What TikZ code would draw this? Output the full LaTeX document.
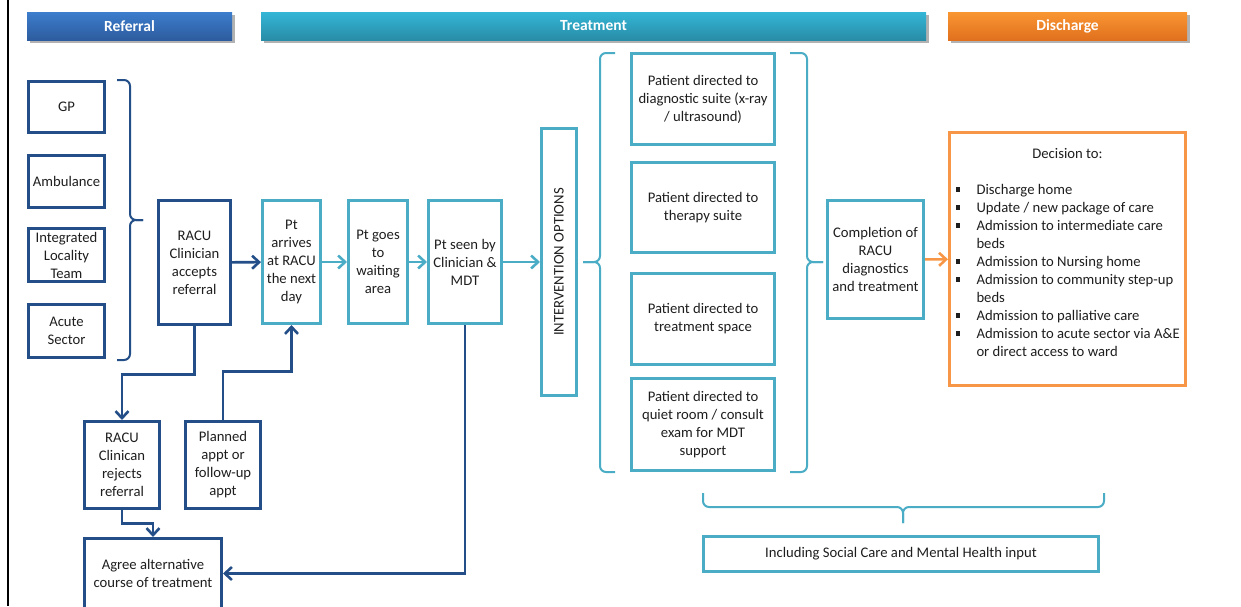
\documentclass[tikz,border=0pt]{standalone}
\usepackage{fontspec}
\usepackage{graphicx}
\setmainfont{Carlito}
\usetikzlibrary{arrows.meta, positioning, calc, shadows}
\definecolor{RefBlue}{RGB}{35, 78, 135}
\definecolor{TreatTeal}{RGB}{75, 172, 198}
\definecolor{DischOrange}{RGB}{247, 150, 70}
\definecolor{InkGrey}{RGB}{30, 30, 30}
\newcommand{\boxfont}{\fontsize{14.67pt}{18pt}\selectfont}
\newcommand{\phasefont}{\fontsize{15.5pt}{18pt}\selectfont\bfseries}
\newcommand{\decitem}[1]{\par\hangindent=21pt\hangafter=1\noindent\makebox[21pt][l]{\rule[2.5pt]{4.5pt}{4.5pt}}#1}

\begin{document}
\begin{tikzpicture}[x=1pt, y=-1pt,
    every node/.style={font=\boxfont, text=InkGrey, align=center, inner sep=0pt},
    refbox/.style={draw=RefBlue, line width=3pt},
    treatbox/.style={draw=TreatTeal, line width=3pt},
    dischbox/.style={draw=DischOrange, line width=3pt},
    phase/.style={minimum height=28pt, text=white, font=\phasefont,
        drop shadow={shadow xshift=3pt, shadow yshift=-3pt, opacity=0.3, fill=black}},
    refarrow/.style={draw=RefBlue, line width=2.6pt, -{Straight Barb[length=7pt, width=13pt]}},
    treatarrow/.style={draw=TreatTeal, line width=2.6pt, -{Straight Barb[length=7pt, width=13pt]}},
    discharrow/.style={draw=DischOrange, line width=2.6pt, -{Straight Barb[length=7pt, width=13pt]}},
    bracket/.style={line width=2pt, rounded corners=6pt}
]
    \useasboundingbox (0,0) rectangle (1241,606);
    \clip (0,0) rectangle (1241,606);
    \draw[line width=2pt, black] (8,0) -- (8,606);

    % phase headers
    \node[phase, minimum width=205pt, top color={rgb,255:red,60;green,125;blue,205}, bottom color={rgb,255:red,45;green,92;blue,158}] (referral) at (129.5,26) {Referral};
    \node[phase, minimum width=665pt, top color={rgb,255:red,52;green,182;blue,215}, bottom color={rgb,255:red,40;green,140;blue,166}] (treatment) at (593.5,26) {Treatment};
    \node[phase, minimum width=239pt, top color={rgb,255:red,250;green,150;blue,50}, bottom color={rgb,255:red,224;green,112;blue,30}] (discharge) at (1067.5,26) {Discharge};

    % referral sources
    \node[refbox, minimum width=76pt, minimum height=51pt] (gp) at (66.5,107) {GP};
    \node[refbox, minimum width=76pt, minimum height=52pt] (ambulance) at (66.5,181.5) {Ambulance};
    \node[refbox, minimum width=76pt, minimum height=53pt] (locality) at (66.5,255) {Integrated\\Locality\\Team};
    \node[refbox, minimum width=76pt, minimum height=53pt] (acute) at (66.5,331) {Acute\\Sector};
    \draw[bracket, RefBlue] (117,80) -- (130,80) -- (130,220) -- (143,220);
    \draw[bracket, RefBlue] (117,360) -- (130,360) -- (130,220) -- (143,220);

    \node[refbox, minimum width=72pt, minimum height=124pt] (accept) at (194.5,262.5) {RACU\\Clinician\\accepts\\referral};
    \node[refbox, minimum width=75pt, minimum height=87pt] (reject) at (122,465) {RACU\\Clinican\\rejects\\referral};
    \node[refbox, minimum width=75pt, minimum height=87pt] (planned) at (223,465) {Planned\\appt or\\follow-up\\appt};
    \node[refbox, minimum width=137pt, minimum height=70pt] (agree) at (153,573.5) {Agree alternative\\course of treatment};

    % treatment pathway
    \node[treatbox, minimum width=58pt, minimum height=123pt] (arrive) at (291.5,262) {Pt\\arrives\\at RACU\\the next\\day};
    \node[treatbox, minimum width=59pt, minimum height=123pt] (waiting) at (378,262) {Pt goes\\to\\waiting\\area};
    \node[treatbox, minimum width=73pt, minimum height=123pt] (seen) at (465,262) {Pt seen by\\Clinician \&\\MDT};
    \node[treatbox, minimum width=35pt, minimum height=267pt] (options) at (559,262) {\rotatebox{90}{INTERVENTION OPTIONS}};

    \node[treatbox, minimum width=143pt, minimum height=91pt] (diag) at (703,99) {Patient directed to\\diagnostic suite (x-ray\\/ ultrasound)};
    \node[treatbox, minimum width=143pt, minimum height=90pt] (therapy) at (703,207.5) {Patient directed to\\therapy suite};
    \node[treatbox, minimum width=143pt, minimum height=91pt] (space) at (703,319) {Patient directed to\\treatment space};
    \node[treatbox, minimum width=143pt, minimum height=92pt] (quiet) at (703,424.5) {Patient directed to\\quiet room / consult\\exam for MDT\\support};
    \draw[bracket, TreatTeal] (615,53) -- (600,53) -- (600,262) -- (583,262);
    \draw[bracket, TreatTeal] (615,472) -- (600,472) -- (600,262) -- (583,262);
    \draw[bracket, TreatTeal] (790,53) -- (807,53) -- (807,262) -- (823,262);
    \draw[bracket, TreatTeal] (790,472) -- (807,472) -- (807,262) -- (823,262);

    \node[treatbox, minimum width=96pt, minimum height=118pt] (complete) at (875.5,259.5) {Completion of\\RACU\\diagnostics\\and treatment};
    \draw[bracket, TreatTeal] (703,493) -- (703,507) -- (903,507) -- (903,523);
    \draw[bracket, TreatTeal] (1104,493) -- (1104,507) -- (903,507) -- (903,523);
    \node[treatbox, minimum width=395pt, minimum height=35pt] (social) at (901,554) {Including Social Care and Mental Health input};

    % discharge decision
    \node[dischbox, minimum width=236pt, minimum height=253pt] (decision) at (1067.5,259) {\parbox[c][222pt][t]{236pt}{%
        \centering Decision to:\par\vspace{18pt}%
        \raggedright\leftskip=6pt
        \decitem{Discharge home}
        \decitem{Update / new package of care}
        \decitem{Admission to intermediate care\newline beds}
        \decitem{Admission to Nursing home}
        \decitem{Admission to community step-up\newline beds}
        \decitem{Admission to palliative care}
        \decitem{Admission to acute sector via A\&E\newline or direct access to ward}\par}};

    % connectors
    \draw[refarrow] (accept) -- (arrive);
    \draw[refarrow] (accept.south) -- ++(0,48.5) -| (reject.north);
    \draw[refarrow] (planned.north) -- ++(0,-48.5) -| (arrive.south);
    \draw[refarrow] (reject.south) -- ++(0,13.5) -| (agree.north);
    \draw[refarrow] (seen.south) |- (agree.east);
    \draw[treatarrow] (arrive) -- (waiting);
    \draw[treatarrow] (waiting) -- (seen);
    \draw[treatarrow] (seen) -- (options);
    \draw[discharrow] (complete) -- (decision);
\end{tikzpicture}
\end{document}
